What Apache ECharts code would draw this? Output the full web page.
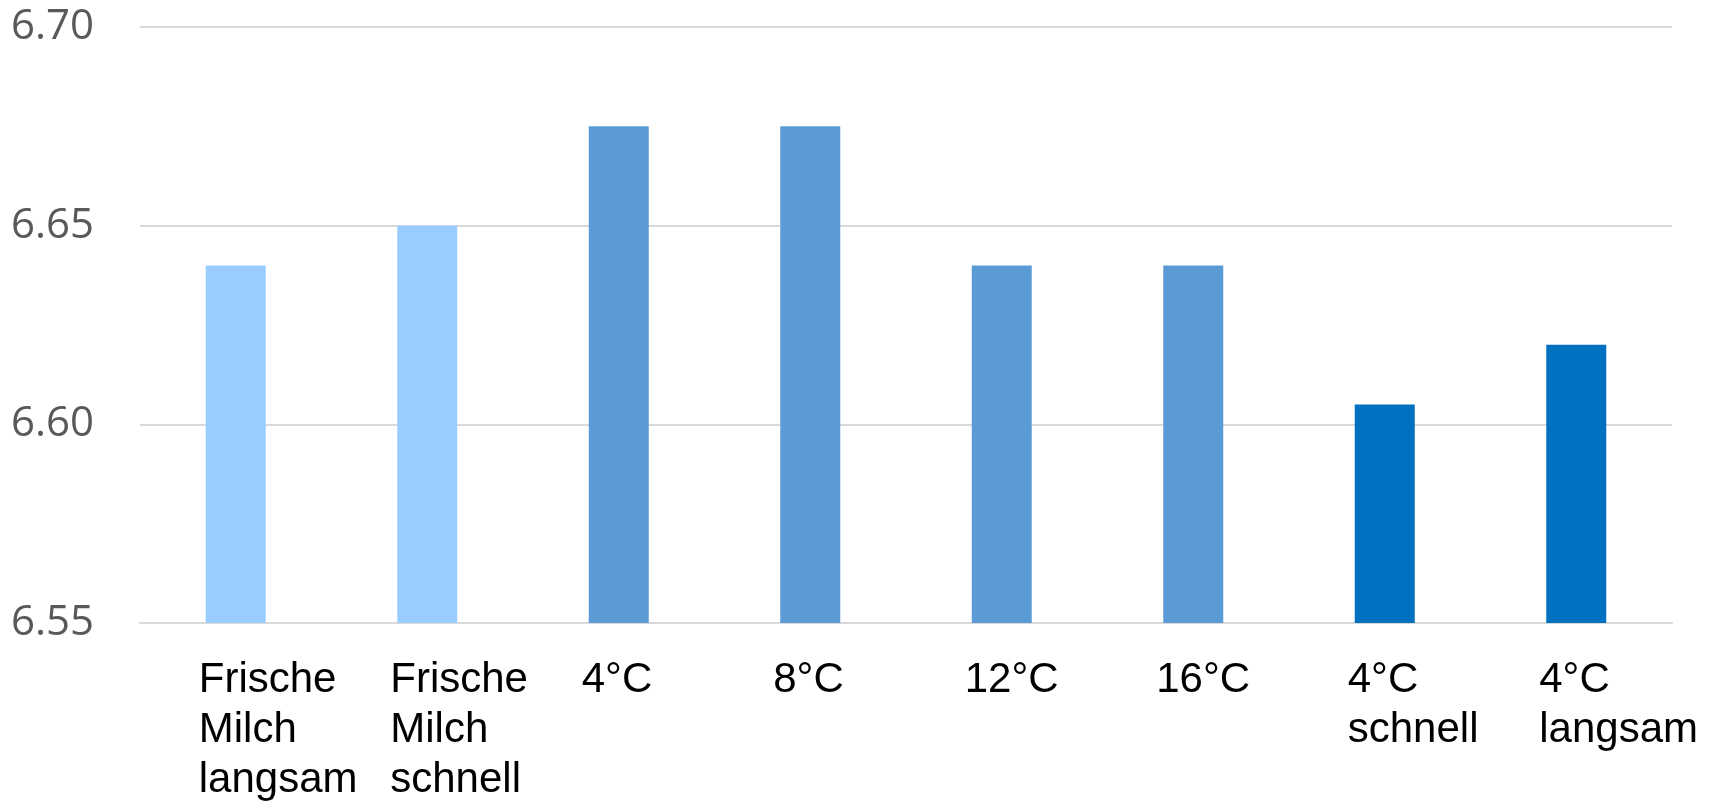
<!DOCTYPE html>
<html>
<head>
<meta charset="utf-8">
<script src="https://cdn.jsdelivr.net/npm/echarts@6/dist/echarts.min.js"></script>
<style>
  html, body { margin: 0; padding: 0; background: #fff; }
  #chart { width: 1719px; height: 805px; }
</style>
</head>
<body>
<div id="chart"></div>
<script>
// pH-Werte je Probe
const categories = [
  'Frische\nMilch\nlangsam',
  'Frische\nMilch\nschnell',
  '4°C',
  '8°C',
  '12°C',
  '16°C',
  '4°C\nschnell',
  '4°C\nlangsam'
];
const values = [6.64, 6.65, 6.675, 6.675, 6.64, 6.64, 6.605, 6.62];
// Probengruppe je Balken: 0 = frische Milch, 1 = Lagertemperatur, 2 = Abkühlung
const groups = [0, 0, 1, 1, 1, 1, 2, 2];
const yTicks = { min: 6.55, max: 6.70, step: 0.05 };

const groupColors = ['#99CCFF', '#5B9BD5', '#0070C0'];

const chart = echarts.init(document.getElementById('chart'), null, { renderer: 'canvas' });
chart.setOption({
  animation: false,
  backgroundColor: '#ffffff',
  grid: { left: 140, right: 47, top: 27, bottom: 180, containLabel: false },
  xAxis: {
    type: 'category',
    data: categories,
    axisLine: { show: true, lineStyle: { color: '#D9D9D9', width: 2 } },
    axisTick: { show: false },
    axisLabel: {
      interval: 0,
      color: '#000000',
      fontFamily: '"Liberation Sans", Arial, sans-serif',
      fontSize: 42,
      lineHeight: 50,
      align: 'left',
      verticalAlign: 'top',
      padding: [0, 0, 0, -37],
      margin: 32
    }
  },
  yAxis: {
    type: 'value',
    min: yTicks.min,
    max: yTicks.max,
    interval: yTicks.step,
    axisLine: { show: false },
    axisTick: { show: false },
    splitLine: { show: true, lineStyle: { color: '#D9D9D9', width: 2 } },
    axisLabel: {
      color: '#595959',
      fontFamily: '"Open Sans", sans-serif',
      fontSize: 42,
      margin: 46,
      formatter: v => v.toFixed(2)
    }
  },
  series: [{
    type: 'bar',
    barWidth: 60,
    data: values.map((v, i) => ({ value: v, itemStyle: { color: groupColors[groups[i]] } }))
  }]
});
</script>
</body>
</html>
